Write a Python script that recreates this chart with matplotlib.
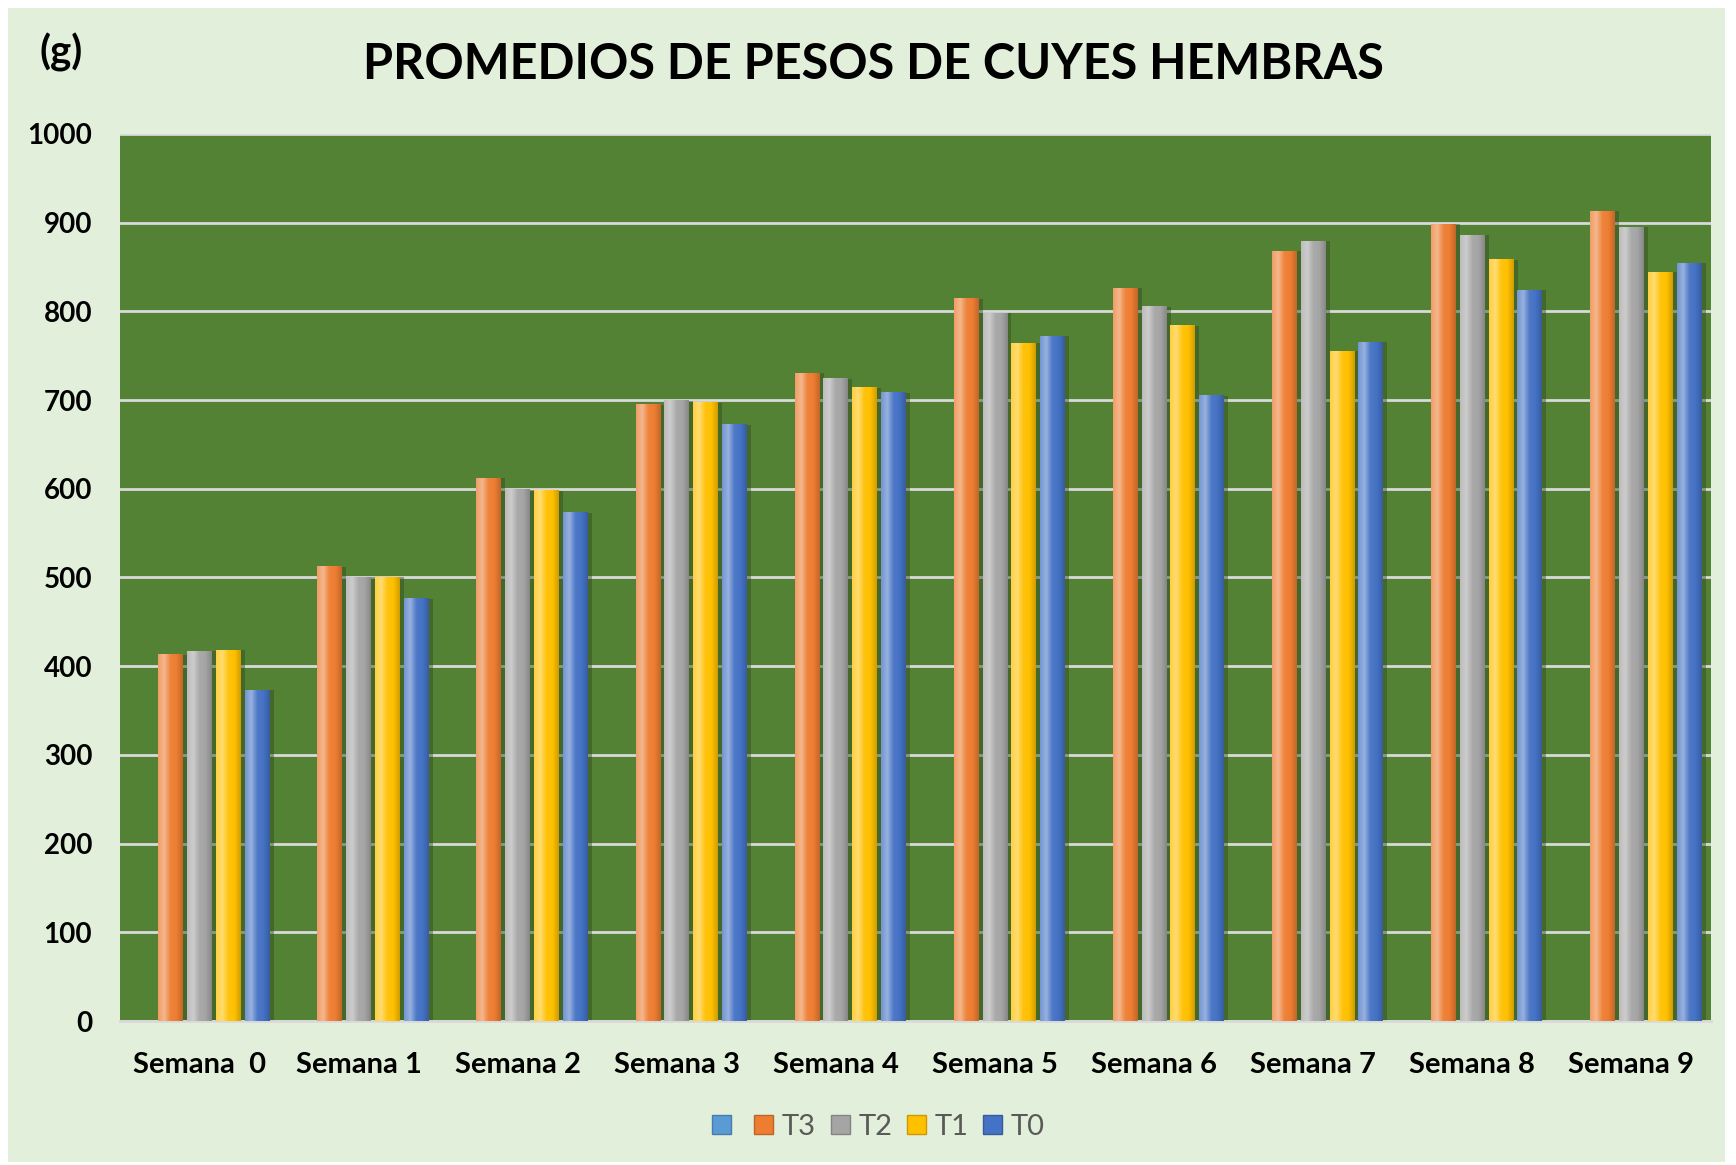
#!/usr/bin/env python3
import numpy as np
from matplotlib import pyplot as plt
from matplotlib.colors import LinearSegmentedColormap, to_rgb
from matplotlib.patches import Rectangle, Patch

semanas = ['Semana  0', 'Semana 1', 'Semana 2', 'Semana 3', 'Semana 4',
           'Semana 5', 'Semana 6', 'Semana 7', 'Semana 8', 'Semana 9']
blank = [0] * 10
t3 = [413, 512, 612, 695, 730, 814, 826, 868, 898, 913]
t2 = [417, 500, 599, 699, 724, 798, 805, 879, 886, 895]
t1 = [418, 500, 598, 697, 714, 764, 784, 755, 858, 844]
t0 = [373, 476, 573, 672, 708, 772, 705, 765, 824, 854]

series = [
    ('', blank, '#5B9BD5'),
    ('T3', t3, '#ED7D31'),
    ('T2', t2, '#A5A5A5'),
    ('T1', t1, '#FFC000'),
    ('T0', t0, '#4472C4'),
]

plt.rcParams['font.family'] = ['Lato', 'DejaVu Sans']

fig = plt.figure(figsize=(17.36, 11.65), dpi=100, facecolor='white')
fig.patches.append(Rectangle((8 / 1736, 3 / 1165), 1717 / 1736, 1154 / 1165,
                             transform=fig.transFigure, facecolor='#E2EFDA',
                             edgecolor='none', zorder=-10))
ax = fig.add_axes([0.0691, 0.1236, 0.9165, 0.7614])
ax.set_facecolor('#548235')

x = np.arange(len(semanas))
slot = 0.181
width = 0.157


def shade(c, f):
    r = np.array(to_rgb(c))
    if f > 0:
        return tuple(r + (1 - r) * f)
    return tuple(r * (1 + f))


for k, (label, vals, color) in enumerate(series):
    pos = x + (k - 2) * slot
    # soft shadow to the right
    ax.bar(pos + 0.025, vals, width, color='#2f4a1c', alpha=0.45, zorder=2,
           linewidth=0)
    bars = ax.bar(pos, vals, width, color=color, zorder=3, linewidth=0)
    cmap = LinearSegmentedColormap.from_list(
        'g', [shade(color, 0.25), shade(color, 0.45), shade(color, 0.05),
              color, shade(color, -0.18)])
    grad = np.linspace(0, 1, 64).reshape(1, -1)
    for b in bars:
        h = b.get_height()
        if h <= 0:
            continue
        ax.imshow(grad, cmap=cmap, aspect='auto', zorder=4,
                  extent=[b.get_x(), b.get_x() + b.get_width(), 0, h])

ax.set_xlim(-0.5, len(semanas) - 0.5)
ax.set_ylim(0, 1000)
ax.set_yticks(np.arange(0, 1001, 100))
ax.yaxis.grid(True, color='#D9D9D9', linewidth=2, zorder=1)
ax.set_axisbelow(True)
ax.set_xticks(x)
ax.set_xticklabels(semanas)
for s in ['left', 'right', 'top']:
    ax.spines[s].set_visible(False)
ax.spines['bottom'].set_color('#D9D9D9')
ax.spines['bottom'].set_linewidth(2)
ax.tick_params(axis='both', length=0, labelsize=20)
ax.tick_params(axis='x', labelsize=21, pad=22)
ax.tick_params(axis='y', pad=20)
for t in ax.get_xticklabels() + ax.get_yticklabels():
    t.set_fontweight('bold')

fig.text(0.503, 0.945, 'PROMEDIOS DE PESOS DE CUYES HEMBRAS', ha='center',
         va='center', fontsize=35, fontweight='bold')
fig.text(0.035, 0.955, '(g)', ha='center', va='center', fontsize=29,
         fontweight='bold')

handles = [Patch(facecolor=c, edgecolor=shade(c, -0.2)) for _, _, c in series]
labels = [lab for lab, _, _ in series]
fig.legend(handles, labels, loc='center', bbox_to_anchor=(0.506, 0.033),
           ncol=5, frameon=False, fontsize=21, labelcolor='#595959',
           handlelength=0.65, handleheight=0.65, handletextpad=0.3,
           columnspacing=0.5)

fig.savefig('out.png', dpi=100, facecolor=fig.get_facecolor())
